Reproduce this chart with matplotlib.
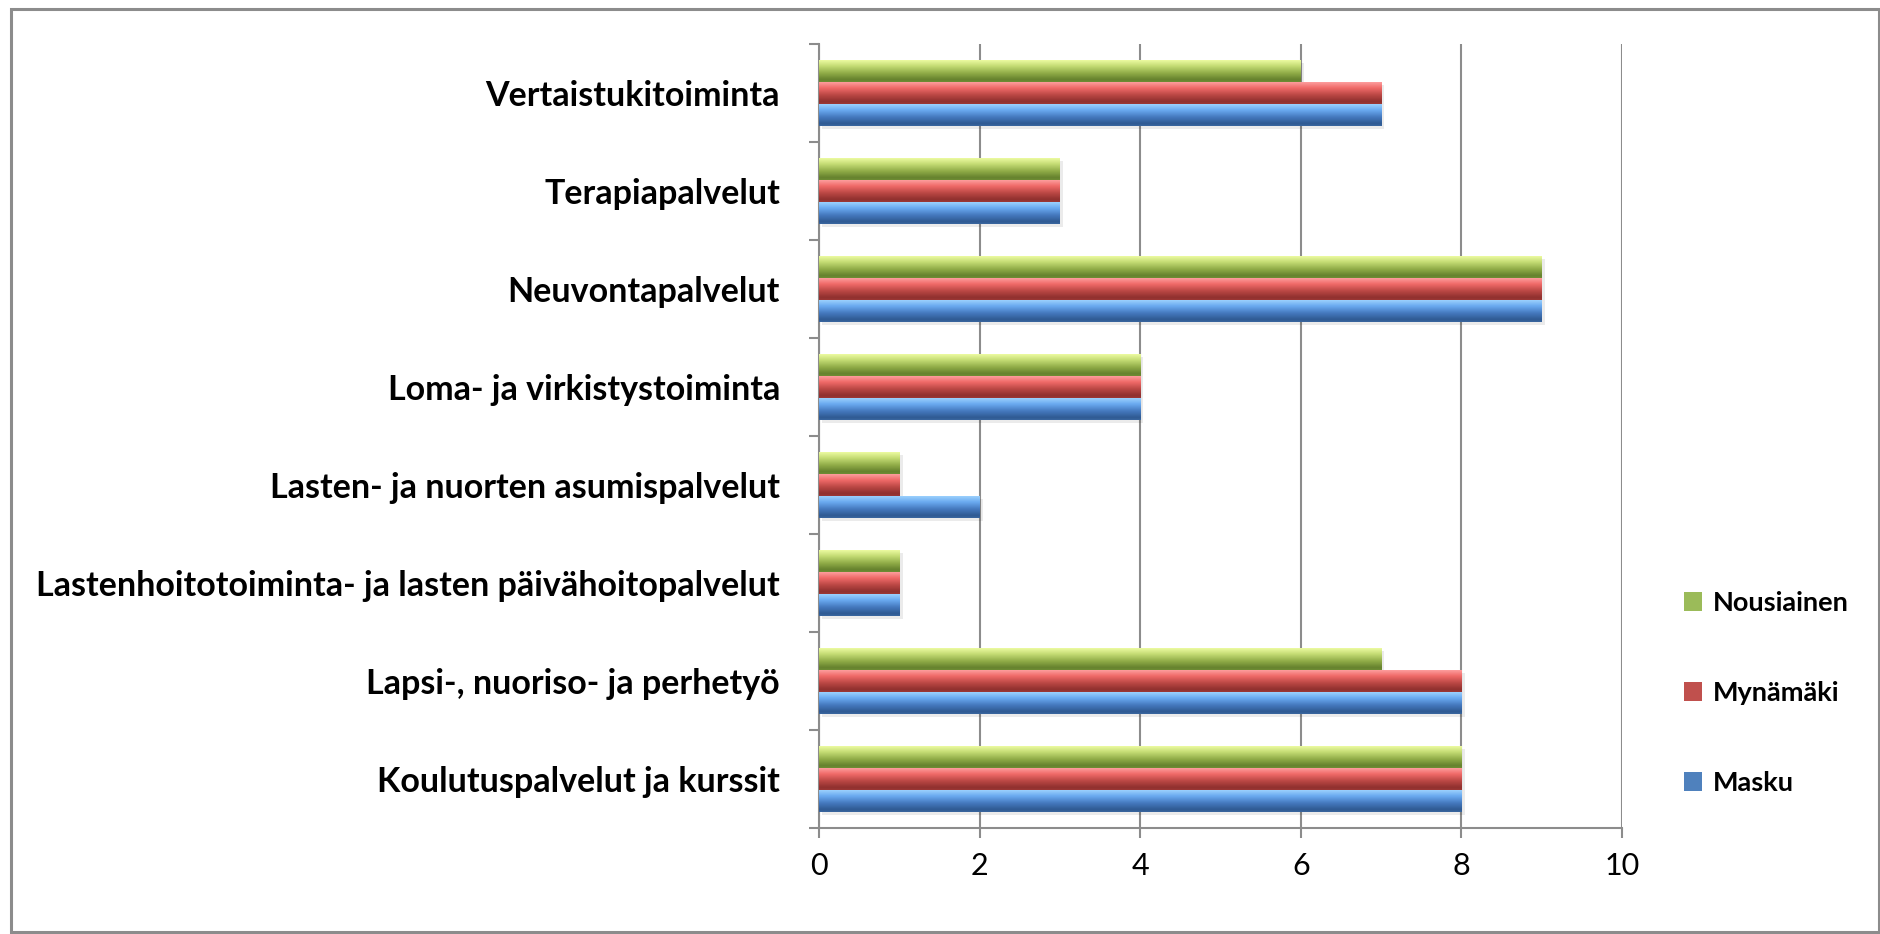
import numpy as np
import matplotlib
matplotlib.use("Agg")
import matplotlib.pyplot as plt
from matplotlib.colors import LinearSegmentedColormap
from matplotlib.patches import Rectangle, Patch

# Luokat ylhäältä alas, kuten kuvassa
categories = [
    "Vertaistukitoiminta",
    "Terapiapalvelut",
    "Neuvontapalvelut",
    "Loma- ja virkistystoiminta",
    "Lasten- ja nuorten asumispalvelut",
    "Lastenhoitotoiminta- ja lasten päivähoitopalvelut",
    "Lapsi-, nuoriso- ja perhetyö",
    "Koulutuspalvelut ja kurssit",
]
masku = [7, 3, 9, 4, 2, 1, 8, 8]
mynamaki = [7, 3, 9, 4, 1, 1, 8, 8]
nousiainen = [6, 3, 9, 4, 1, 1, 7, 8]
x_ticks = [0, 2, 4, 6, 8, 10]

# (nimi, arvot, liukuväri ylhäältä alas, legendan väri)
series = [
    ("Masku", masku, ["#a2d6ff", "#6aaaf0", "#4478bd", "#2f5a92", "#3a66a0"], "#4f81bd"),
    ("Mynämäki", mynamaki, ["#ffa5a5", "#f06a68", "#b84643", "#8f302e", "#9c3836"], "#c0504d"),
    ("Nousiainen", nousiainen, ["#f2ffa8", "#c4dc74", "#8fab47", "#66822e", "#6f8c35"], "#9bbb59"),
]

W, H = 1881, 934
fig = plt.figure(figsize=(W / 100, H / 100), dpi=100)
fig.patch.set_facecolor("white")
ax = fig.add_axes([819 / W, 1 - 828 / H, (1622 - 819) / W, (828 - 44) / H])

n = len(categories)
y = np.arange(n)[::-1].astype(float)
bh = 0.225
offsets = [-bh, 0.0, bh]
grad = np.linspace(0, 1, 64).reshape(-1, 1)

for (name, vals, stops, base), off in zip(series, offsets):
    cmap = LinearSegmentedColormap.from_list(name, list(zip([0, 0.3, 0.62, 0.9, 1.0], stops)))
    # varjo
    ax.barh(y + off - 0.03, vals, height=bh, left=0.04, color="#000000", alpha=0.08,
            linewidth=0, zorder=2)
    bars = ax.barh(y + off, vals, height=bh, color=base, linewidth=0, zorder=3)
    for b in bars:
        x0, y0 = b.get_x(), b.get_y()
        im = ax.imshow(grad, cmap=cmap, aspect="auto", origin="upper",
                       extent=(x0, x0 + b.get_width(), y0, y0 + b.get_height()),
                       zorder=4, interpolation="bilinear")
        im.set_clip_path(b)

ax.set_xlim(0, 10)
ax.set_ylim(-0.5, n - 0.5)
ax.set_xticks(x_ticks)
ax.set_xticklabels([str(t) for t in x_ticks], fontsize=22, family="Lato")
ax.set_yticks(y)
ax.set_yticklabels(categories, fontsize=24.5, fontweight="bold", family="Lato")
ax.set_yticks(np.arange(-0.5, n, 1.0), minor=True)

ax.tick_params(axis="y", which="major", length=0, pad=28)
ax.tick_params(axis="y", which="minor", length=7, width=1.5, color="#8c8c8c", direction="out")
ax.tick_params(axis="x", length=7, width=1.5, color="#8c8c8c", direction="out", pad=10)

ax.grid(axis="x", color="#8c8c8c", linewidth=1.5, zorder=1)
ax.set_axisbelow(True)
for s in ("top", "right"):
    ax.spines[s].set_visible(False)
for s in ("left", "bottom"):
    ax.spines[s].set_color("#8c8c8c")
    ax.spines[s].set_linewidth(1.5)

handles = [Patch(facecolor=base, edgecolor="none", label=name) for name, _, _, base in series[::-1]]
fig.legend(handles=handles, loc="upper left", bbox_to_anchor=(1670 / W, 1 - 577 / H),
           frameon=False, borderpad=0, labelspacing=2.45, handlelength=0.7,
           handleheight=0.7, handletextpad=0.4,
           prop={"family": "Lato", "weight": "bold", "size": 19.5})

# kehys kuvan ympärillä
fig.patches.append(Rectangle((11 / W, 1 - 932 / H), (1879 - 11) / W, (932 - 9) / H,
                             transform=fig.transFigure, fill=False,
                             edgecolor="#8c8c8c", linewidth=2.2))

fig.savefig("out.png", dpi=100, facecolor="white")
